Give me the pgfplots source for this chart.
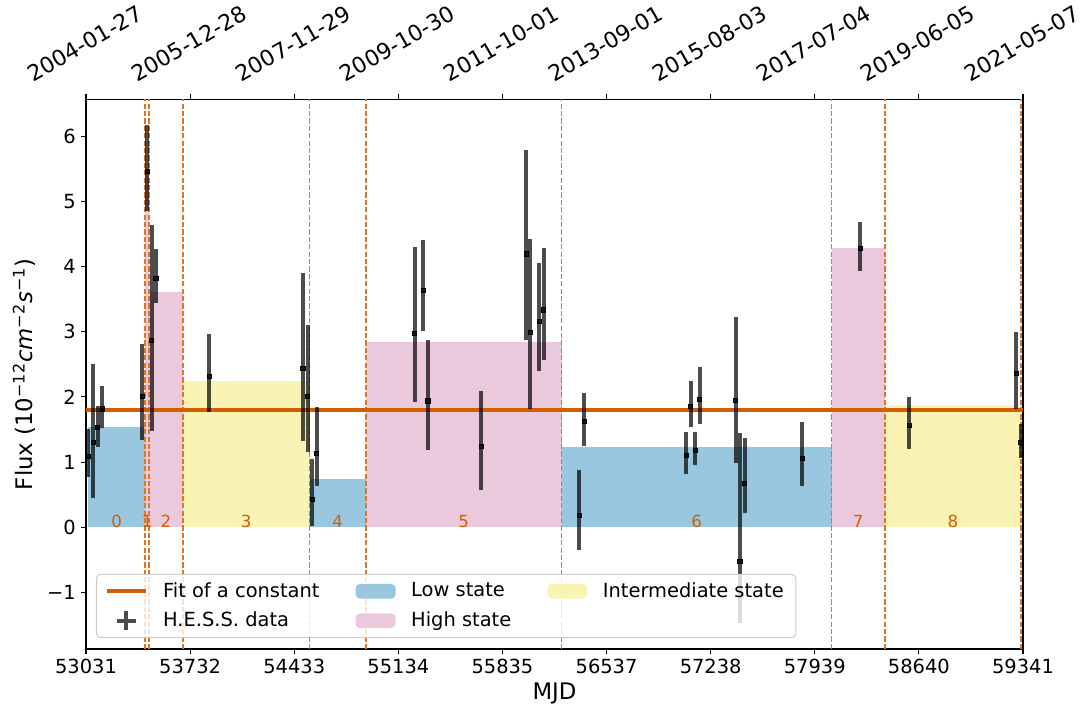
\documentclass[border=0pt]{standalone}
\usepackage{fontspec}
\setmainfont{DejaVu Sans}[ItalicFont={DejaVu Sans Oblique}]
\usepackage{pgfplots}
\pgfplotsset{compat=1.18}
\usepackage{pgfplotstable}

\definecolor{vermillion}{RGB}{213,94,0}
\definecolor{edgeline}{RGB}{222,118,36}
\definecolor{lowstate}{RGB}{153,199,224}
\definecolor{highstate}{RGB}{235,201,220}
\definecolor{midstate}{RGB}{249,244,179}
\definecolor{legframe}{RGB}{204,204,204}

\newcommand{\fs}{\fontsize{9.72}{11.66}\selectfont}
\newcommand{\fsl}{\fontsize{11.4}{13.7}\selectfont}
\newcommand{\fsd}{\fontsize{11}{13.2}\selectfont}
\newcommand{\fsb}{\fontsize{8.33}{10}\selectfont}

% H.E.S.S. light curve: MJD, flux (1e-12 cm^-2 s^-1), upper and lower errors
\pgfplotstableread{
mjd   flux    ep     em
53046  1.082  0.421  0.316
53080  1.308  1.193  0.864
53110  1.528  0.333  0.292
53141  1.815  0.353  0.297
53410  2.004  0.804  0.665
53442  5.458  0.717  0.598
53473  2.874  1.766  1.392
53502  3.815  0.452  0.377
53861  2.311  0.651  0.538
54492  2.434  1.464  1.110
54524  2.004  1.101  0.845
54553  0.425  0.618  0.407
54585  1.135  0.711  0.502
55245  2.977  1.321  1.059
55302  3.637  0.773  0.625
55334  1.938  0.932  0.748
55693  1.236  0.851  0.669
55994  4.195  1.596  1.321
56023  2.993  1.437  1.183
56083  3.155  0.906  0.757
56113  3.335  0.952  0.772
56353  0.177  0.701  0.522
56385  1.620  0.436  0.369
57073  1.098  0.359  0.281
57103  1.850  0.399  0.312
57134  1.175  0.282  0.220
57164  1.968  0.487  0.379
57406  1.942  1.290  0.956
57435 -0.530  1.972  0.946
57467  0.674  0.691  0.451
57855  1.052  0.563  0.415
58245  4.282  0.404  0.344
58575  1.558  0.441  0.357
59296  2.357  0.645  0.538
59327  1.297  0.288  0.230
}\hessdata

\pgfplotsset{
  blockedge/.style={forget plot, draw=edgeline, line width=0.85pt,
    dash pattern=on 2.6pt off 1.1pt},
}
\tikzset{blocknum/.style={font=\fsb, text=vermillion, anchor=base}}

\begin{document}
\begin{tikzpicture}[font=\fs]
\begin{axis}[
  at={(0pt,0pt)}, anchor=south west,
  width=468.5pt, height=274.85pt, scale only axis,
  xmin=53031, xmax=59341, ymin=-1.87, ymax=6.57,
  scaled x ticks=false, scaled y ticks=false,
  axis line style={line width=0.55pt},
  every tick/.style={black, line width=0.55pt},
  tick align=outside, major tick length=2.45pt,
  xtick pos=bottom, ytick pos=left,
  xtick={53031,53732.1,54433.2,55134.3,55835.4,56536.6,57237.7,57938.8,58639.9,59341},
  xticklabels={53031,53732,54433,55134,55835,56537,57238,57939,58640,59341},
  ytick={-1,0,1,2,3,4,5,6},
  yticklabels={−1,0,1,2,3,4,5,6},
  tick label style={font=\fs, inner sep=2.45pt},
  xlabel={MJD},
  ylabel={Flux (10\textsuperscript{−12}\textit{cm}\textsuperscript{−2}\textit{s}\textsuperscript{−1})},
  xlabel style={font=\fsl, at={(axis description cs:0.5,-0.091)}, anchor=base},
  ylabel style={font=\fsl, at={(axis description cs:-0.0571,0.5)}, anchor=base},
  legend columns=3,
  legend cell align=left,
  legend style={at={(axis description cs:0,0)}, xshift=5pt, yshift=5.5pt,
    anchor=south west, draw=legframe, line width=0.5pt, rounded corners=2pt,
    fill=white, fill opacity=0.8, draw opacity=1, text opacity=1, font=\fs,
    inner xsep=4pt, inner ysep=2pt, row sep=1.8pt,
    /tikz/every odd column/.append style={column sep=5.8pt},
    /tikz/every even column/.append style={column sep=16pt}},
]
% Bayesian blocks
\addplot[forget plot, fill=lowstate, draw=none]  coordinates {(53046,0) (53046,1.534) (53428,1.534) (53428,0)} -- cycle;
\addplot[forget plot, fill=highstate, draw=none] coordinates {(53428,0) (53428,5.458) (53457,5.458) (53457,0)} -- cycle;
\addplot[forget plot, fill=highstate, draw=none] coordinates {(53457,0) (53457,3.616) (53682,3.616) (53682,0)} -- cycle;
\addplot[forget plot, fill=midstate, draw=none]  coordinates {(53682,0) (53682,2.245) (54537,2.245) (54537,0)} -- cycle;
\addplot[forget plot, fill=lowstate, draw=none]  coordinates {(54537,0) (54537,0.740) (54915,0.740) (54915,0)} -- cycle;
\addplot[forget plot, fill=highstate, draw=none] coordinates {(54915,0) (54915,2.844) (56234,2.844) (56234,0)} -- cycle;
\addplot[forget plot, fill=lowstate, draw=none]  coordinates {(56234,0) (56234,1.227) (58052,1.227) (58052,0)} -- cycle;
\addplot[forget plot, fill=highstate, draw=none] coordinates {(58052,0) (58052,4.287) (58411,4.287) (58411,0)} -- cycle;
\addplot[forget plot, fill=midstate, draw=none]  coordinates {(58411,0) (58411,1.872) (59327,1.872) (59327,0)} -- cycle;
% block edges
\addplot[blockedge] coordinates {(53428,-1.87) (53428,6.57)};
\addplot[blockedge] coordinates {(53457,-1.87) (53457,6.57)};
\addplot[blockedge] coordinates {(53682,-1.87) (53682,6.57)};
\addplot[blockedge] coordinates {(54537,-1.87) (54537,6.57)};
\addplot[blockedge] coordinates {(54915,-1.87) (54915,6.57)};
\addplot[blockedge] coordinates {(56234,-1.87) (56234,6.57)};
\addplot[blockedge] coordinates {(58052,-1.87) (58052,6.57)};
\addplot[blockedge] coordinates {(58411,-1.87) (58411,6.57)};
\addplot[blockedge] coordinates {(59327,-1.87) (59327,6.57)};
% constant fit
\addplot[forget plot, vermillion, line width=2pt] coordinates {(53031,1.80) (59341,1.80)};
% data
\addplot[forget plot, only marks, mark=square*, mark size=1.05pt,
  mark options={draw=none, fill=black, fill opacity=0.7},
  error bars/.cd, y dir=both, y explicit, error mark=none,
  error bar style={line width=2.1pt, black, draw opacity=0.7}]
  table[x=mjd, y=flux, y error plus=ep, y error minus=em] {\hessdata};
% block numbers
\node[blocknum] at (axis cs:53237,0) {0};
\node[blocknum] at (axis cs:53442.5,0) {1};
\node[blocknum] at (axis cs:53569.5,0) {2};
\node[blocknum] at (axis cs:54109.5,0) {3};
\node[blocknum] at (axis cs:54726,0) {4};
\node[blocknum] at (axis cs:55574.5,0) {5};
\node[blocknum] at (axis cs:57143,0) {6};
\node[blocknum] at (axis cs:58231.5,0) {7};
\node[blocknum] at (axis cs:58869,0) {8};
% legend
\addlegendimage{legend image code/.code={\draw[vermillion, line width=2pt] (0pt,0pt) -- (19.5pt,0pt);}}
\addlegendentry{Fit of a constant}
\addlegendimage{legend image code/.code={\fill[lowstate, fill opacity=1] (0pt,-3.4pt) rectangle (19.5pt,3.4pt);}}
\addlegendentry{Low state}
\addlegendimage{legend image code/.code={\fill[midstate, fill opacity=1] (0pt,-3.4pt) rectangle (19.5pt,3.4pt);}}
\addlegendentry{Intermediate state}
\addlegendimage{legend image code/.code={\draw[black, draw opacity=0.7, line width=2.1pt] (9.75pt,-4.75pt) -- (9.75pt,4.75pt) (5pt,0pt) -- (14.5pt,0pt);}}
\addlegendentry{H.E.S.S. data}
\addlegendimage{legend image code/.code={\fill[highstate, fill opacity=1] (0pt,-3.4pt) rectangle (19.5pt,3.4pt);}}
\addlegendentry{High state}
\end{axis}
% calendar dates along the top edge
\begin{axis}[
  at={(0pt,0pt)}, anchor=south west,
  width=468.5pt, height=274.85pt, scale only axis,
  xmin=53031, xmax=59341, ymin=0, ymax=1,
  scaled x ticks=false,
  axis line style={draw=none},
  every tick/.style={black, line width=0.55pt},
  tick align=outside, major tick length=2.45pt,
  xtick pos=upper, xticklabel pos=upper, ytick=\empty,
  xtick={53031,53732.1,54433.2,55134.3,55835.4,56536.6,57237.7,57938.8,58639.9,59341},
  xticklabels={2004-01-27,2005-12-28,2007-11-29,2009-10-30,2011-10-01,2013-09-01,2015-08-03,2017-07-04,2019-06-05,2021-05-07},
  xticklabel style={font=\fsd, inner sep=0pt, yshift=25.25pt, xshift=-0.6pt, rotate=30, anchor=center},
]
\end{axis}
\pgfresetboundingbox
\path[use as bounding box] (-43pt,-31pt) rectangle (499.5pt,324.5pt);
\end{tikzpicture}
\end{document}
